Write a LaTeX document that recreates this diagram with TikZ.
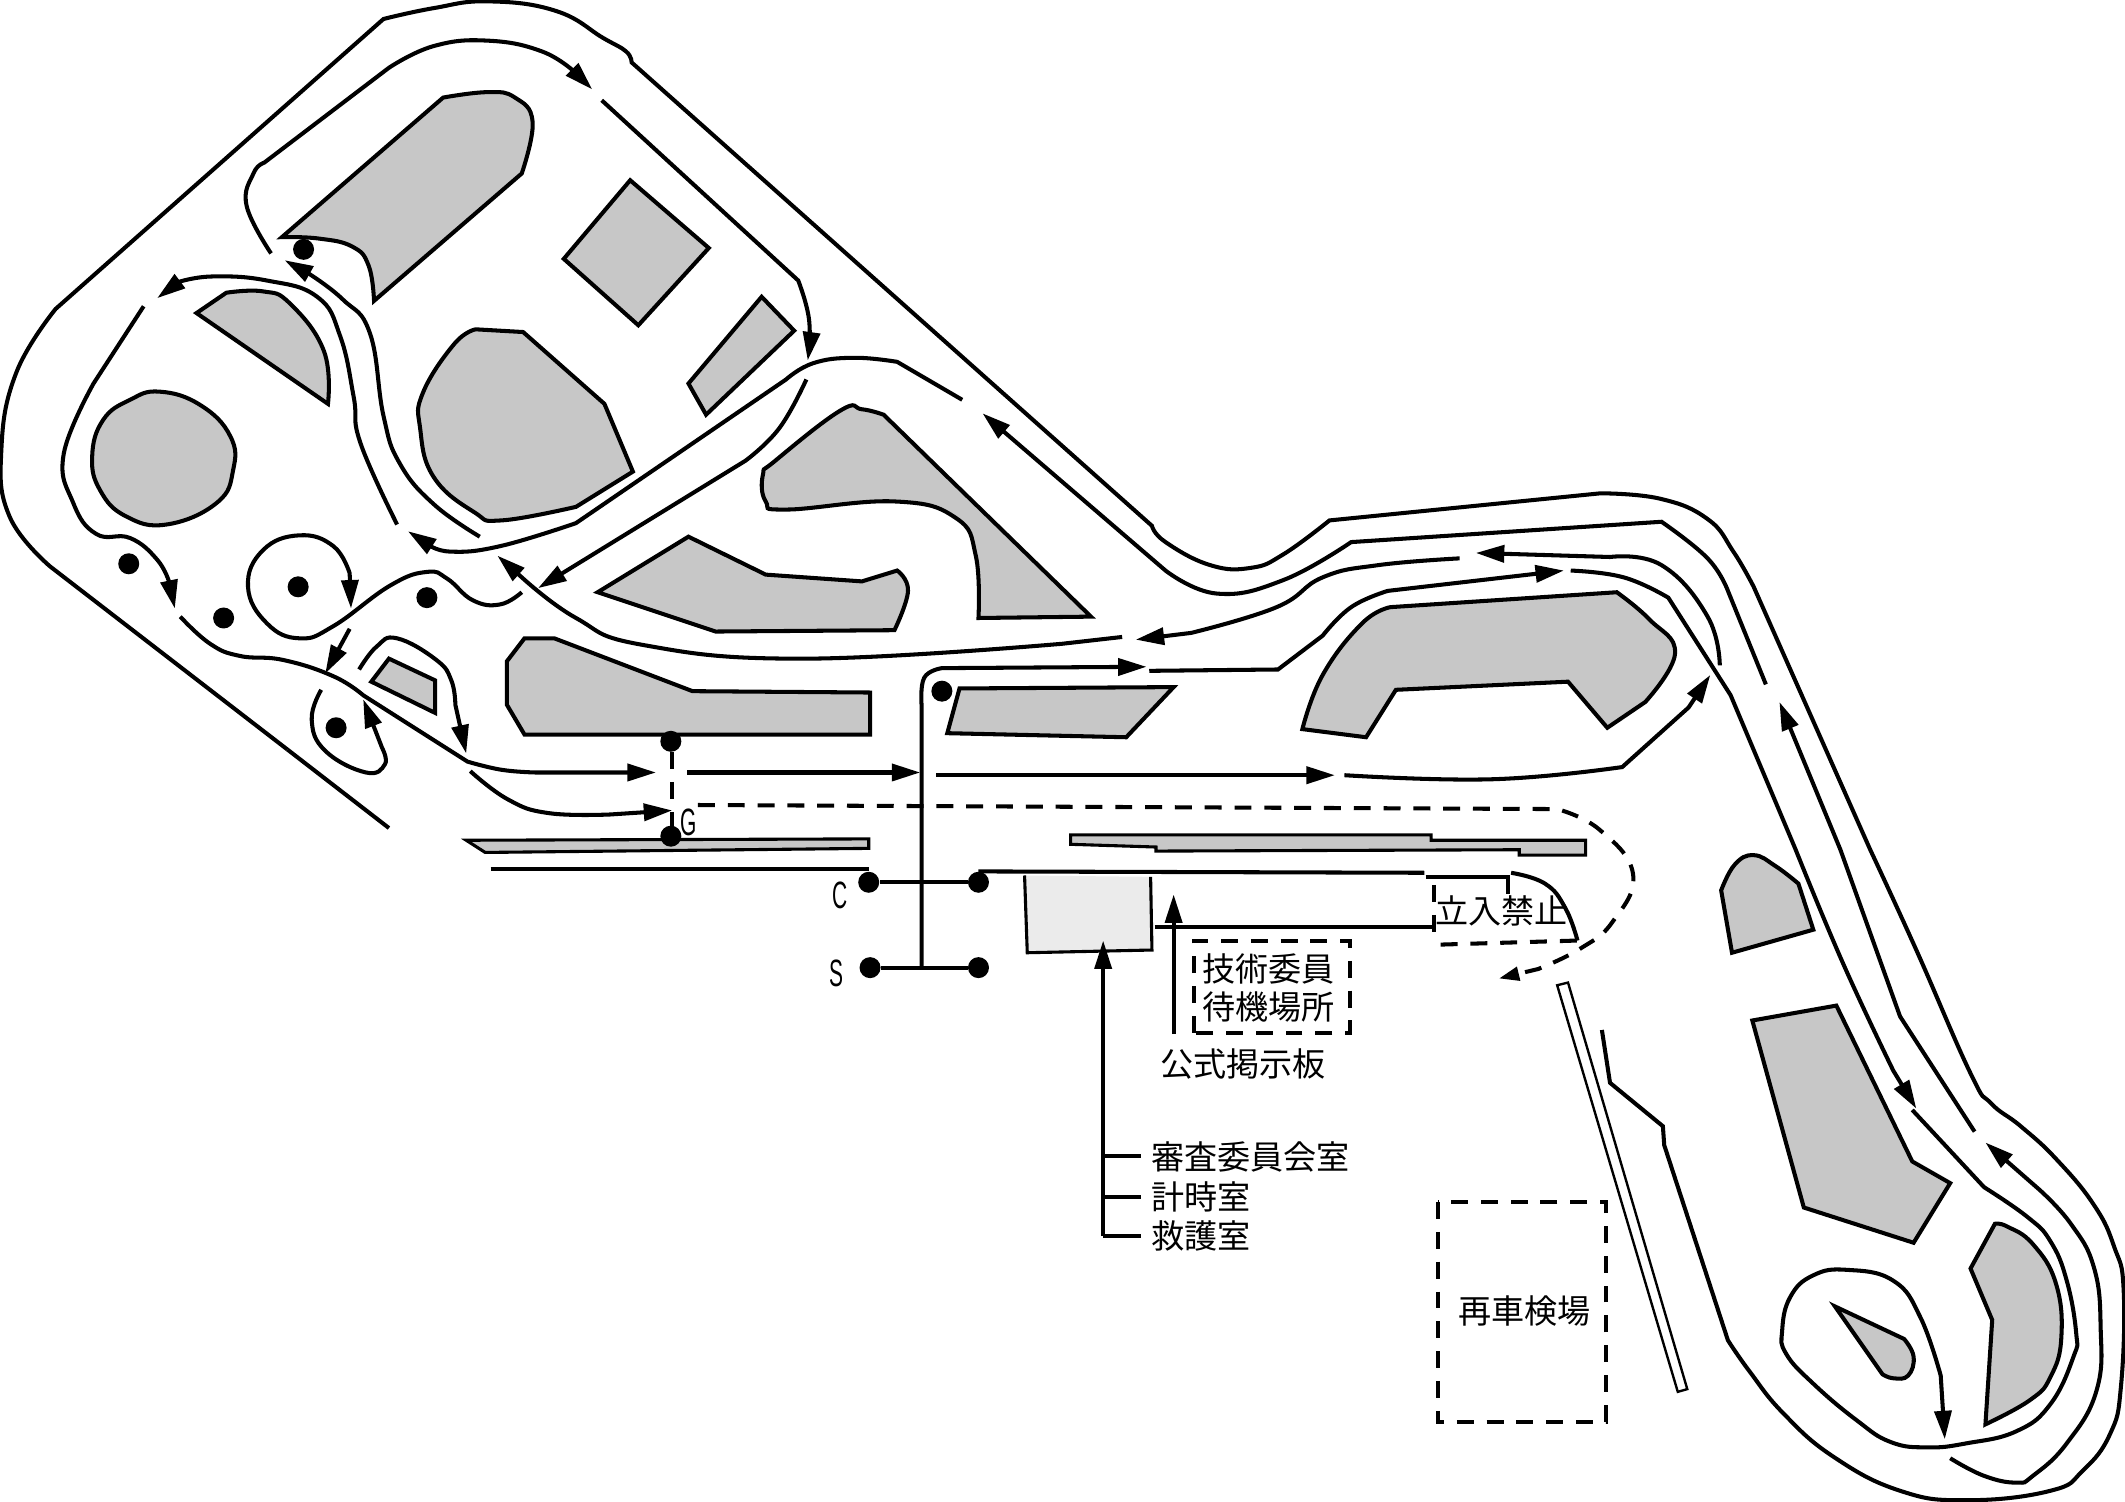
\documentclass[tikz,border=0pt]{standalone}
\usepackage{fontspec}
\setmainfont{Noto Sans CJK JP}
\newfontfamily\latinfont{Liberation Sans}
\usetikzlibrary{arrows.meta}
\begin{document}
\begin{tikzpicture}
  [x=.02cm,y=-.02cm,
   curve/.style={smooth,tension=.75},
   track/.style={draw=black,line width=1.7pt},
   tip/.style={track,-{Stealth[length=.42cm,width=.25cm,inset=0pt]}},
   block/.style={draw=black,line width=1.7pt,fill=black!22},
   dashline/.style={draw=black,line width=1.7pt,dash pattern=on .25cm off .19cm},
   dot/.style={circle,fill=black,inner sep=0pt,minimum width=.31cm},
   word/.style={inner sep=0pt,font=\fontsize{13.9pt}{16pt}\selectfont},
   letter/.style={inner sep=0pt,xscale=.55,font=\latinfont\fontsize{16pt}{16pt}\selectfont}]
  \useasboundingbox (0,0) rectangle (1568,1108.3);

  % grey islands
  \draw[block] (208,175) -- (327,72) -- plot[curve] coordinates {(327,72) (360,68) (380,72) (393,90) (385,128)} -- (276,222) -- plot[curve] coordinates {(276,222) (272,196) (260,182) (235,176) (208,175)} -- cycle;
  \draw[block] (465,133) -- (523,183) -- (471,240) -- (416,191) -- cycle;
  \draw[block] (562,219) -- (586,244) -- (521,306) -- (508,283) -- cycle;
  \draw[block] (351,243) -- (386,245) -- (446,298) -- (467,348) -- (425,374) -- plot[curve] coordinates {(425,374) (370,384) (350,378) (320,352) (310,316) (312,290) (335,254) (351,243)} -- cycle;
  \draw[block] (145,231) -- (167,216) -- plot[curve] coordinates {(167,216) (194,215) (214,224) (239,259) (242,298)} -- cycle;
  \draw[block] plot[smooth cycle,tension=.75] coordinates {(118,289) (148,299) (170,322) (172,347) (160,371) (123,387) (93,381) (74,362) (68,337) (76,310) (96,295)};
  \draw[block] (652,306) -- (805,455) -- (722,456) -- plot[curve] coordinates {(722,456) (720,410) (705,382) (660,370) (580,376) (565,370) (563,350) (572,340) (620,303) (636,302) (652,306)} -- cycle;
  \draw[block] (441,437) -- (508,396) -- (565,424) -- (636,429) -- (662,421) -- plot[curve] coordinates {(662,421) (670,436) (660,465)} -- (528,466) -- cycle;
  \draw[block] (387,471) -- (409,471) -- (511,510) -- (642,511) -- (642,542) -- (387,542) -- (374,520) -- (374,488) -- cycle;
  \draw[block] (287,486) -- (321,502) -- (321,526) -- (274,503) -- cycle;
  \draw[block] (708,508) -- (866,507) -- (831,544) -- (699,541) -- cycle;
  \draw[block] (1026,448) -- (1193,437) -- plot[curve] coordinates {(1193,437) (1217,457) (1236,482) (1214,518)} -- (1186,537) -- (1157,503) -- (1030,509) -- (1008,544) -- (961,538) -- plot[curve] coordinates {(961,538) (976,498) (1005,460) (1026,448)} -- cycle;
  \draw[block,line width=1.3pt] (344,620) -- (641,619) -- (641,626) -- (358,629) -- cycle;
  \draw[block,line width=1.3pt] (790,616) -- (1056,616) -- (1056,620) -- (1170,620) -- (1170,631) -- (1121,631) -- (1121,627) -- (853,628) -- (853,625) -- (790,623) -- cycle;
  \draw[block] (1270,657) -- plot[curve] coordinates {(1270,657) (1280,638) (1294,631) (1310,639) (1327,652)} -- (1338,686) -- (1278,703) -- cycle;
  \draw[block] (1293,753) -- (1355,742) -- (1411,857) -- (1439,873) -- (1412,917) -- (1331,891) -- cycle;
  \draw[block] (1472,903) -- plot[curve] coordinates {(1472,903) (1481,905) (1500,918) (1517,947) (1521,987) (1513,1016) (1498,1033) (1465,1051)} -- (1470,974) -- (1454,936) -- cycle;
  \draw[block] (1354,964) -- (1405,988) -- plot[curve] coordinates {(1405,988) (1412,1001) (1408,1015) (1397,1017) (1389,1014)} -- cycle;
  \fill[black!8] (756,646) -- (849,647) -- (850,701) -- (758,703) -- cycle;
  \draw[track,line width=1.3pt] (756,646) -- (758,703) -- (850,701) -- (849,647);

  % outer edge
  \draw[track] (212,553) -- (287,611);
  \draw[track] (212,553) -- (37,418) -- plot[curve] coordinates {(37,418) (7,381) (1,332) (12,275) (41,228)} -- (283,14) -- plot[curve] coordinates {(283,14) (320,6) (360,1) (410,8) (445,28) (462,38) (466,46)} -- (850,388) -- plot[curve] coordinates {(850,388) (860,400) (893,417) (923,419) (947,409) (981,384)} -- (1181,364) -- plot[curve] coordinates {(1181,364) (1225,368) (1260,383) (1279,407) (1294,433)} -- (1380,627) -- plot[curve] coordinates {(1380,627) (1414,701) (1454,792) (1469,814) (1491,831) (1517,855) (1545,889) (1560,920) (1567,952) (1565,1023) (1557,1058) (1537,1085) (1513,1100) (1451,1107) (1402,1100) (1353,1075) (1316,1043) (1291,1012) (1275,989)} -- (1228,845) -- (1227,831) -- (1188,799) -- (1182,760);

  % racing line
  \draw[tip] plot[curve] coordinates {(200,187) (182,152) (187,128) (195,120)} -- (287,50) -- plot[curve] coordinates {(287,50) (320,34) (360,30) (400,38) (425,54)} -- (437,66);
  \draw[tip] (444,74) -- (589,207) -- plot[curve] coordinates {(589,207) (597,236) (596,266)};
  \draw[tip] (710,295) -- plot[curve] coordinates {(662,267) (630,264) (600,268) (580,280)} -- (425,386) -- plot[curve] coordinates {(425,386) (369,403) (332,407) (315,401)} -- (301,392);
  \draw[tip] plot[curve] coordinates {(595,280) (575,316) (550,340)} -- (397,434);
  \draw[tip] (828,470) -- plot[curve] coordinates {(784,475) (595,486) (475,476) (425,456) (385,426)} -- (367,410);
  \draw[tip] plot[curve] coordinates {(354,396) (320,372) (295,342) (283,307) (273,246) (253,221) (228,202)} -- (210,192);
  \draw[tip] plot[curve] coordinates {(293,387) (266,327) (261,293) (251,248) (234,219) (197,207) (157,204) (132,208)} -- (116,220);
  \draw[tip] (106,226) -- plot[curve] coordinates {(69,283) (47,335) (54,371) (71,394) (96,397) (116,413) (125,430)} -- (129,449);
  \draw[tip] plot[curve] coordinates {(133,455) (155,475) (177,484) (209,487) (246,499) (268,513)} -- (345,562) -- plot[curve] coordinates {(345,562) (370,568) (395,570)} -- (484,570);
  \draw[tip] (507,570) -- (679,570);
  \draw[tip] (691,572) -- (985,572);
  \draw[tip] plot[curve] coordinates {(992,572) (1101,575) (1197,566)} -- (1246,522) -- (1262,498);
  \draw[tip] (1303,505) -- plot[curve] coordinates {(1275,436) (1260,412) (1226,385)} -- (997,400) -- plot[curve] coordinates {(997,400) (947,428) (898,438) (860,421)} -- (725,305);
  \draw[tip] (1457,835) -- (1402,750) -- (1358,627) -- (1313,518);
  \draw[tip] plot[curve] coordinates {(1439,1076) (1464,1089) (1488,1094) (1500,1089) (1525,1065) (1547,1026) (1550,979) (1545,935) (1528,903) (1505,878)} -- (1465,843);
  \draw[tip] plot[curve] coordinates {(1077,412) (1017,417) (976,426) (942,448) (879,467)} -- (838,472);
  \draw[tip] (848,495) -- (943,494) -- (976,469) -- plot[curve] coordinates {(976,469) (997,448) (1024,436)} -- (1154,421);
  \draw[tip] (680,715) -- (680,520) -- plot[curve] coordinates {(680,520) (682,500) (695,493)} -- (846,492);
  \draw[tip] plot[curve] coordinates {(1269,491) (1260,455) (1226,417) (1188,411)} -- (1089,408);
  \draw[tip] plot[curve] coordinates {(1159,421) (1198,426) (1231,441)} -- (1277,513) -- (1325,627) -- plot[curve] coordinates {(1325,627) (1360,711) (1397,790)} -- (1414,818);
  \draw[tip] (1411,819) -- plot[curve] coordinates {(1464,876) (1496,898) (1513,916) (1525,945) (1532,984) (1530,1001) (1513,1036) (1488,1056) (1451,1065) (1422,1068) (1395,1064) (1370,1048) (1338,1021) (1318,999) (1315,982) (1321,957) (1338,941) (1363,937) (1397,945) (1417,972) (1432,1015)} -- (1435,1062);
  \draw[tip] (258,464) -- (240,497);
  \draw[tip] plot[curve] coordinates {(385,437) (369,446) (349,443) (330,427) (315,422) (288,432) (246,462) (221,471) (197,460) (183,433) (194,406) (221,395) (246,403) (258,423)} -- (259,449);
  \draw[tip] plot[curve] coordinates {(237,509) (230,531) (240,554) (270,570) (284,564) (282,552)} -- (268,516);
  \draw[tip] plot[curve] coordinates {(265,494) (278,477) (293,471) (322,487) (333,502) (336,520)} -- (344,556);
  \draw[tip] plot[curve] coordinates {(347,569) (375,590) (405,600) (450,601)} -- (496,598);

  % paddock dashes
  \draw[dashline] (496,555) -- (496,610);
  \draw[dashline,-{Stealth[length=.3cm,width=.2cm,inset=0pt]}] (515,594) -- (1149,597) -- plot[curve] coordinates {(1149,597) (1180,612) (1205,645) (1190,680) (1166,700) (1135,715)} -- (1106,722);
  \draw[dashline] (881,762) -- (881,694) -- (996,694) -- (996,762) -- cycle;
  \draw[dashline] (1058,653) -- (1058,689);
  \draw[dashline] (1063,697) -- (1164,694);
  \draw[dashline] (1061,887) rectangle (1185,1049);

  % pit buildings
  \draw[track] (362,641) -- (641,641);
  \draw[track] (722,643) -- (1051,644);
  \draw[track] (1052,647) -- (1113,647) -- (1113,660);
  \draw[track] plot[curve] coordinates {(1115,644) (1140,652) (1155,670) (1164,694)};
  \draw[track] (852,684) -- (1058,684);
  \draw[track,line width=1pt] (1149,727) -- (1157,725) -- (1245,1025) -- (1238,1027) -- cycle;

  \node[dot] (gate1) at (495,547) {};
  \node[dot] (gate2) at (495,617) {};
  \node[dot] (c1) at (641,651) {};
  \node[dot] (c2) at (722,651) {};
  \node[dot] (s1) at (642,714) {};
  \node[dot] (s2) at (722,714) {};
  \node[dot] (p1) at (224,184) {};
  \node[dot] (p2) at (95,416) {};
  \node[dot] (p3) at (165,456) {};
  \node[dot] (p4) at (220,433) {};
  \node[dot] (p5) at (315,441) {};
  \node[dot] (p6) at (248,537) {};
  \node[dot] (p7) at (695,510) {};

  \draw[track] (c1) -- (c2);
  \draw[track] (s1) -- (s2);

  \node[letter] (g) at (508,607) {G};
  \node[letter] (c) at (620,661) {C};
  \node[letter] (s) at (617,718) {S};

  \node[word] (noentry) at (1108,672) {立入禁止};
  \node[word] (stand1) at (936,715) {技術委員};
  \node[word] (stand2) at (936,743) {待機場所};
  \node[word] (board) at (917,785) {公式掲示板};
  \node[word,anchor=west] (room1) at (849,854) {審査委員会室};
  \node[word,anchor=west] (room2) at (849,883) {計時室};
  \node[word,anchor=west] (room3) at (849,912) {救護室};
  \node[word] (recheck) at (1125,967) {再車検場};

  \coordinate (boardtip) at (866,660);
  \coordinate (boardfoot) at (866,763);
  \coordinate (roomtip) at (814,694);
  \draw[tip] (boardfoot) -- (boardtip);
  \draw[tip] (814,912) -- (roomtip);
  \draw[track] (814,853) -- (842,853);
  \draw[track] (814,883) -- (842,883);
  \draw[track] (814,912) -- (842,912);
\end{tikzpicture}
\end{document}
